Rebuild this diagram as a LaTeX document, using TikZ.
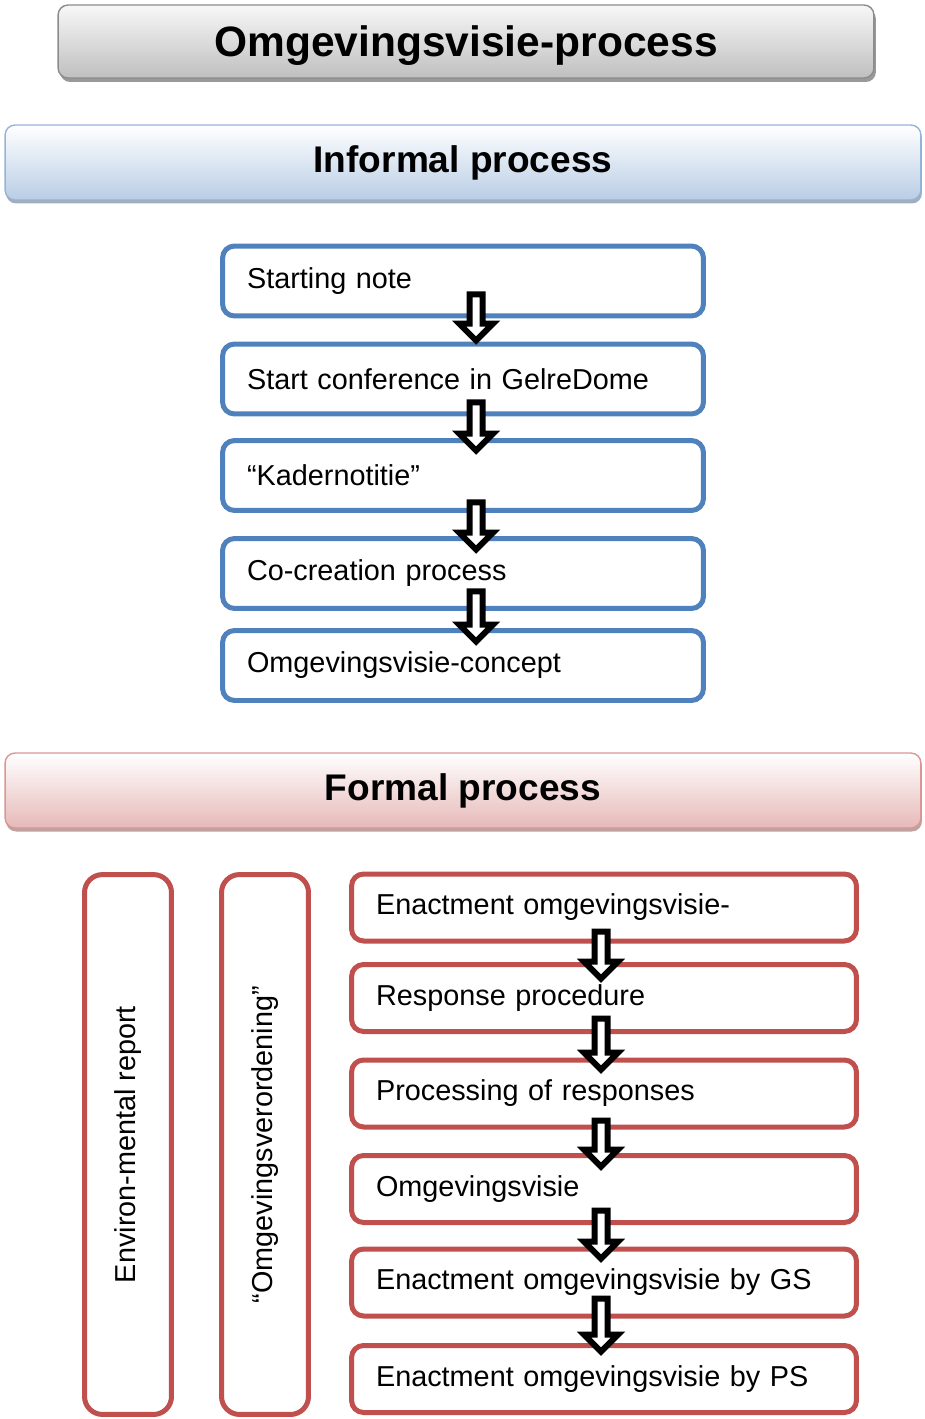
\documentclass[tikz,border=0pt]{standalone}
\usepackage{fontspec}
\setmainfont{Liberation Sans}
\usepackage[x11names, rgb]{xcolor}
\usetikzlibrary{calc,shadows}

\definecolor{infoblue}{HTML}{4F81BD}
\definecolor{formalred}{HTML}{C0504D}
\definecolor{headblue}{HTML}{B9CDE5}
\definecolor{headblueline}{HTML}{95B3D7}
\definecolor{headred}{HTML}{E6B9B8}
\definecolor{headredline}{HTML}{D99694}

\begin{document}
\begin{tikzpicture}[x=0.02cm,y=-0.02cm]
\tikzset{
	title node/.style = {rectangle, rounded corners=0.2cm, draw=gray!90, line width=0.8pt,
		top color=gray!6!white, bottom color=gray!50!white,
		minimum width=16.32cm, minimum height=1.46cm, text depth=0pt,
		drop shadow={shadow xshift=0.04cm, shadow yshift=-0.08cm, fill=gray!80, opacity=1},
		font=\fontsize{24.2}{29}\selectfont\bfseries},
	informal head/.style = {rectangle, rounded corners=0.2cm, draw=headblueline, line width=0.8pt,
		top color=white, bottom color=headblue,
		minimum width=18.32cm, minimum height=1.5cm,
		drop shadow={shadow xshift=0.02cm, shadow yshift=-0.07cm, fill=headblue!60!gray, opacity=1},
		font=\fontsize{21.1}{25}\selectfont\bfseries},
	formal head/.style = {rectangle, rounded corners=0.2cm, draw=headredline, line width=0.8pt,
		top color=white, bottom color=headred,
		minimum width=18.32cm, minimum height=1.5cm,
		drop shadow={shadow xshift=0.02cm, shadow yshift=-0.07cm, fill=headred!60!gray, opacity=1},
		font=\fontsize{21.1}{25}\selectfont\bfseries},
	info node/.style = {rectangle, rounded corners=0.24cm, draw=infoblue, line width=0.1cm, fill=white,
		minimum height=1.4cm, text width=8.64cm, inner xsep=0.49cm, align=left,
		font=\fontsize{16.4}{19.7}\selectfont},
	formal node/.style = {rectangle, rounded corners=0.24cm, draw=formalred, line width=0.1cm, fill=white,
		minimum height=1.34cm, text width=9.12cm, inner xsep=0.49cm, align=left,
		font=\fontsize{16.4}{19.7}\selectfont},
	side node/.style = {rectangle, rounded corners=0.36cm, draw=formalred, line width=0.1cm, fill=white,
		rotate=90, minimum width=10.8cm, minimum height=1.74cm,
		font=\fontsize{16.4}{19.7}\selectfont},
	flow/.style = {draw=black, fill=white, line width=0.12cm, line join=miter,
		to path={let \p1=(\tikztostart), \p2=(\tikztotarget) in
			(\x1-0.13cm,\y1) -- (\x1-0.13cm,\y2+0.34cm) -- (\x1-0.34cm,\y2+0.34cm) -- (\x1,\y2)
			-- (\x1+0.34cm,\y2+0.34cm) -- (\x1+0.13cm,\y2+0.34cm) -- (\x1+0.13cm,\y1) -- cycle}},
}

\useasboundingbox (0,0) rectangle (925,1419);

\node (title) [title node] at (466,41.5) {Omgevingsvisie-process};

\node (informal) [informal head] at (463,162.5) {Informal process};

\node (i1) [info node] at (463,281) {Starting note};
\node (i2) [info node] at (463,379) {Start conference in GelreDome};
\node (i3) [info node] at (463,475.5) {“Kadernotitie”};
\node (i4) [info node] at (463,573.5) {Co-creation process};
\node (i5) [info node] at (463,665.5) {Omgevingsvisie-concept};

\draw [flow] ([shift={(13,-24)}]i1.south) to ([shift={(13,-1)}]i2.north);
\draw [flow] ([shift={(13,-14)}]i2.south) to ([shift={(13,12.5)}]i3.north);
\draw [flow] ([shift={(13,-10.5)}]i3.south) to ([shift={(13,13.5)}]i4.north);
\draw [flow] ([shift={(13,-19.5)}]i4.south) to ([shift={(13,13.5)}]i5.north);

\node (formal) [formal head] at (463,790.5) {Formal process};

\node (report) [side node] at (128,1144.5) {Environ-mental report};
\node (rule) [side node] at (265,1144.5) {“Omgevingsverordening”};

\node (f1) [formal node] at (604,907.5) {Enactment omgevingsvisie-};
\node (f2) [formal node] at (604,998) {Response procedure};
\node (f3) [formal node] at (604,1093.5) {Processing of responses};
\node (f4) [formal node] at (604,1189) {Omgevingsvisie};
\node (f5) [formal node] at (604,1282.5) {Enactment omgevingsvisie by GS};
\node (f6) [formal node] at (604,1379) {Enactment omgevingsvisie by PS};

\draw [flow] ([shift={(-3,-12)}]f1.south) to ([shift={(-3,16.5)}]f2.north);
\draw [flow] ([shift={(-3,-15.5)}]f2.south) to ([shift={(-3,12)}]f3.north);
\draw [flow] ([shift={(-3,-9)}]f3.south) to ([shift={(-3,13.5)}]f4.north);
\draw [flow] ([shift={(-3,-14.5)}]f4.south) to ([shift={(-3,12)}]f5.north);
\draw [flow] ([shift={(-3,-20)}]f5.south) to ([shift={(-3,8.5)}]f6.north);

\end{tikzpicture}
\end{document}
